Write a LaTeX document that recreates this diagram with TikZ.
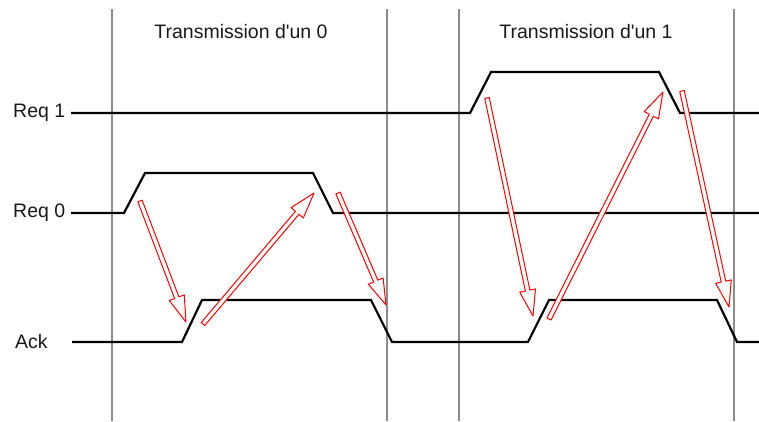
\documentclass[tikz,border=0pt]{standalone}
\usepackage{fontspec}
\setmainfont{Liberation Sans}
\usetikzlibrary{calc}
\newcommand{\hollowarrow}[2]{%
  \coordinate (ha) at (#1);
  \coordinate (hb) at (#2);
  \coordinate (hh) at ($(hb)!26pt!(ha)$);
  \draw[harr] ($(ha)!2.3pt!90:(hb)$) -- ($(hh)!2.3pt!90:(hb)$) -- ($(hh)!8pt!90:(hb)$) -- (hb)
    -- ($(hh)!8pt!-90:(hb)$) -- ($(hh)!2.3pt!-90:(hb)$) -- ($(ha)!2.3pt!-90:(hb)$) -- cycle;
}
\begin{document}
\begin{tikzpicture}[x=1pt,y=-1pt,
  grid/.style={draw=black!45, line width=2pt},
  sig/.style={draw=black, line width=2.2pt, line join=miter},
  harr/.style={draw=red, line width=1pt, fill=white, line join=round},
  lab/.style={font=\fontsize{19.5}{22}\selectfont, inner sep=0pt, text=black!90}
]
\useasboundingbox (0,0) rectangle (759,421);
% vertical grid lines
\foreach \x/\n in {112/g1,387/g2,459/g3,734/g4}{
  \coordinate (\n t) at (\x,9);
  \coordinate (\n b) at (\x,421);
  \draw[grid] (\n t) -- (\n b);
}
% titles
\node[lab] (t0) at (241,32) {Transmission d\textquotesingle un 0};
\node[lab] (t1) at (586,32) {Transmission d\textquotesingle un 1};
% labels
\node[lab, anchor=west] (lr1) at (13,113) {Req 1};
\node[lab, anchor=west] (lr0) at (13,213) {Req 0};
\node[lab, anchor=west] (lack) at (15,342) {Ack};
% signals
\draw[sig] (71,113) -- (470,113) -- (491,72) -- (659,72) -- (680,113) -- (759,113);
\draw[sig] (71,213) -- (124,213) -- (145,173) -- (313,173) -- (333,213) -- (759,213);
\draw[sig] (72,342) -- (182,342) -- (202,300) -- (371,300) -- (392,342) -- (528,342)
  -- (549,300) -- (717,300) -- (737,342) -- (759,342);
% arrows
\coordinate (a1s) at (140,201); \coordinate (a1e) at (186,322);
\coordinate (a2s) at (203,324); \coordinate (a2e) at (314,193);
\coordinate (a3s) at (338,193); \coordinate (a3e) at (386,305);
\coordinate (a4s) at (487,98);  \coordinate (a4e) at (533,316);
\coordinate (a5s) at (549,319); \coordinate (a5e) at (663,92);
\coordinate (a6s) at (682,91);  \coordinate (a6e) at (729,307);
\hollowarrow{a1s}{a1e}
\hollowarrow{a2s}{a2e}
\hollowarrow{a3s}{a3e}
\hollowarrow{a4s}{a4e}
\hollowarrow{a5s}{a5e}
\hollowarrow{a6s}{a6e}
\end{tikzpicture}
\end{document}
